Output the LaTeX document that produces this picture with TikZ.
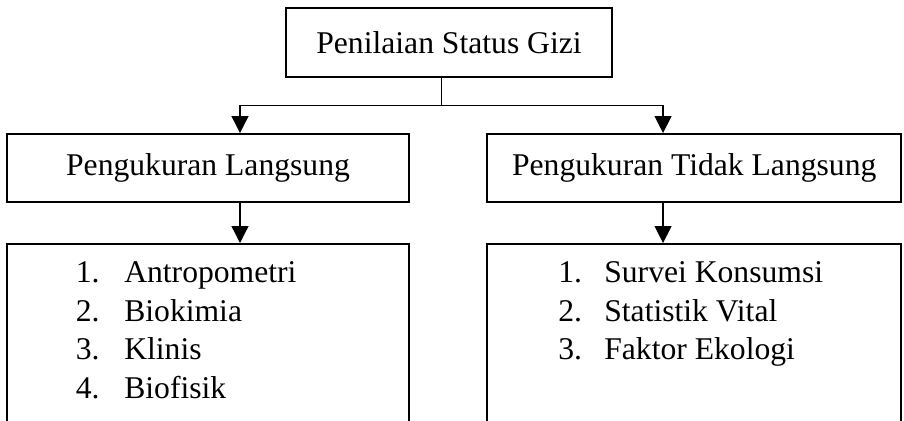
\documentclass[tikz,border=0pt]{standalone}
\usepackage{fontspec}
\setmainfont{Liberation Serif}
\usetikzlibrary{arrows.meta, positioning, calc}

\begin{document}
\begin{tikzpicture}[
  font=\fontsize{22.5}{27.4}\selectfont,
  box/.style={
    draw=black,
    line width=1.4pt,
    align=center,
    inner sep=0pt
  },
  listtext/.style={
    anchor=north west,
    inner sep=0pt,
    align=left
  },
  link/.style={
    draw=black,
    line width=0.9pt
  },
  arrow/.style={
    link,
    -{Triangle[length=0.42cm, width=0.42cm]}
  }
]

\useasboundingbox (0,0) rectangle (22.6,-10.5);
\clip (0,0) rectangle (22.6,-10.5);

% Title
\node[box, minimum width=8.15cm, minimum height=1.72cm] (psg) at (11.225,-1.06)
{Penilaian Status Gizi};

% -------------------------------------------------------------------
% Two kinds of measurement
% -------------------------------------------------------------------
\node[box, minimum width=10.05cm, minimum height=1.7cm] (pl) at (5.2,-4.2)
{Pengukuran Langsung};

\node[box, minimum width=10.36cm, minimum height=1.7cm] (ptl) at (17.356,-4.2)
{Pengukuran Tidak Langsung};

% -------------------------------------------------------------------
% Method lists (boxes run past the bottom edge)
% -------------------------------------------------------------------
\node[box, anchor=north, minimum width=10.05cm, minimum height=5cm] (mpl) at (5.2,-6.075) {};

\node[box, anchor=north, minimum width=10.36cm, minimum height=5cm] (mptl) at (17.356,-6.075) {};

\node[listtext, below right=0.31cm and 1.74cm of mpl.north west] (lpl)
{
  \begin{tabular}{@{}p{1.21cm}@{}l@{}}
  1. & Antropometri\\
  2. & Biokimia\\
  3. & Klinis\\
  4. & Biofisik
  \end{tabular}
};

\node[listtext, below right=0.31cm and 1.8cm of mptl.north west] (lptl)
{
  \begin{tabular}{@{}p{1.15cm}@{}l@{}}
  1. & Survei Konsumsi\\
  2. & Statistik Vital\\
  3. & Faktor Ekologi
  \end{tabular}
};

% Connectors
\coordinate (stem) at ($(psg.south)+(-0.18,0)$);
\coordinate (split) at ($(stem)+(0,-0.7)$);
\coordinate (pl-in) at ($(pl.north)+(0.8,0)$);
\coordinate (ptl-in) at ($(ptl.north)+(-0.78,0)$);
\coordinate (pl-out) at ($(pl.south)+(0.8,0)$);
\coordinate (ptl-out) at ($(ptl.south)+(-0.78,0)$);

\draw[link, line width=0.7pt] (stem) -- (split);
\draw[arrow] (split) -| (pl-in);
\draw[arrow] (split) -| (ptl-in);

\draw[arrow] (pl-out) -- (pl-out |- mpl.north);
\draw[arrow] (ptl-out) -- (ptl-out |- mptl.north);

\end{tikzpicture}
\end{document}
